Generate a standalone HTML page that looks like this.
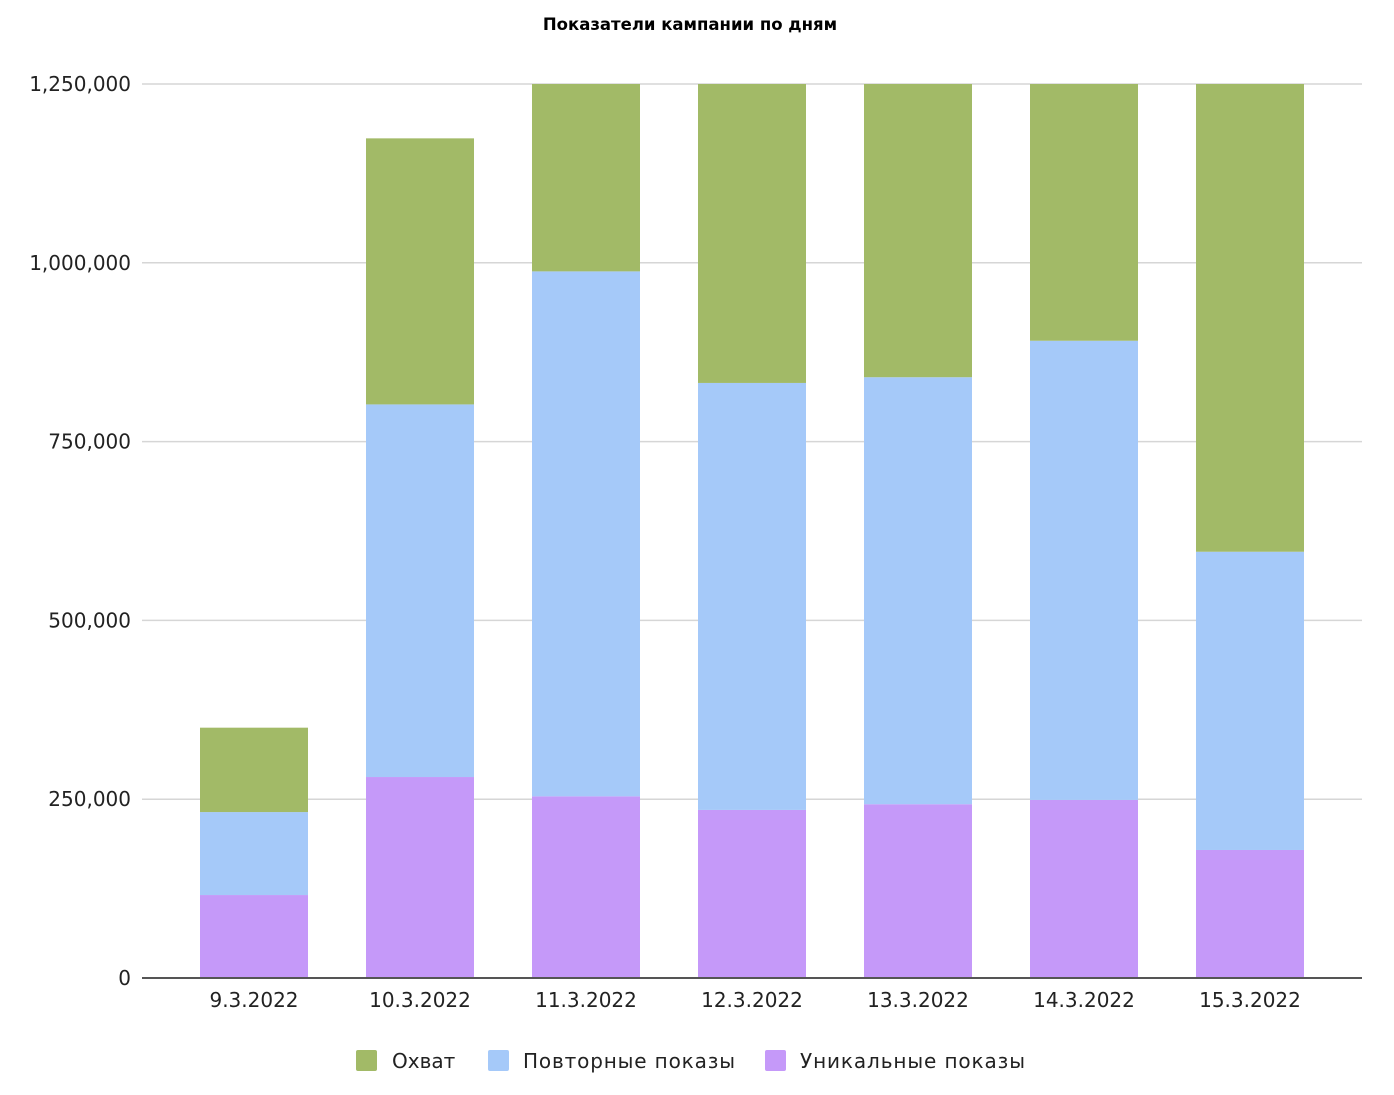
<!DOCTYPE html>
<html><head><meta charset="utf-8"><style>
body{margin:0;background:#fff;font-family:"DejaVu Sans","Liberation Sans",sans-serif;}
</style></head><body>
<svg id="chart" width="1394" height="1091" xmlns="http://www.w3.org/2000/svg">
<text x="690" y="30" text-anchor="middle" font-size="16.5" font-weight="bold" fill="#000">Показатели кампании по дням</text>
<g id="grid"></g><g id="bars"></g><g id="axes"></g>
<g font-size="20" fill="#222">
<rect x="356" y="1050" width="21" height="21" rx="2" fill="#a2ba67"/>
<text x="392" y="1068">Охват</text>
<rect x="488" y="1050" width="21" height="21" rx="2" fill="#a5c9f9"/>
<text x="523" y="1068" textLength="212">Повторные показы</text>
<rect x="765" y="1050" width="21" height="21" rx="2" fill="#c599f9"/>
<text x="800" y="1068" textLength="225">Уникальные показы</text>
</g>
</svg>
<script>
const categories=["9.3.2022","10.3.2022","11.3.2022","12.3.2022","13.3.2022","14.3.2022","15.3.2022"];
const unique=[116000,281000,254000,235000,243000,249000,179000];
const repeat=[116000,521000,734000,597000,597000,642000,417000];
const reach=[118000,372000,450000,600000,600000,550000,800000];
const yTicks=[0,250000,500000,750000,1000000,1250000];
const yTickLabels=["0","250,000","500,000","750,000","1,000,000","1,250,000"];
const NS="http://www.w3.org/2000/svg";
const x0=142,x1=1362,yBase=978,yTop=84,yMax=1250000;
const y=v=>yBase-(Math.min(v,yMax)/yMax)*(yBase-yTop);
const xc=i=>254+166*i;
const bw=108;
function mk(tag,attrs,parent){const e=document.createElementNS(NS,tag);for(const k in attrs)e.setAttribute(k,attrs[k]);parent.appendChild(e);return e;}
const grid=document.getElementById('grid'),bars=document.getElementById('bars'),axes=document.getElementById('axes');
yTicks.forEach((t,i)=>{
 if(t>0){const l=mk('line',{x1:x0,x2:x1,y1:y(t),y2:y(t),stroke:'#d6d6d6','stroke-width':1.5},grid);
 
 }
 const tx=mk('text',{x:131,y:y(t)+7,'text-anchor':'end','font-size':20,fill:'#222'},axes);
 tx.textContent=yTickLabels[i];
 
 
});
const series=[[unique,'#c599f9','unique'],[repeat,'#a5c9f9','repeat'],[reach,'#a2ba67','reach']];
categories.forEach((c,i)=>{
 let acc=0;
 series.forEach(([arr,col,nm])=>{
  const top=y(acc+arr[i]),bot=y(acc);acc+=arr[i];
  const r=mk('rect',{x:xc(i)-bw/2,y:top,width:bw,height:Math.max(0,bot-top),fill:col},bars);
  
  
 });
 const tx=mk('text',{x:xc(i),y:1007,'text-anchor':'middle','font-size':20,fill:'#222'},axes);
 tx.textContent=c;
 
 
});
const ax=mk('line',{x1:x0,x2:x1,y1:yBase,y2:yBase,stroke:'#555','stroke-width':2},axes);


</script>
</body></html>
